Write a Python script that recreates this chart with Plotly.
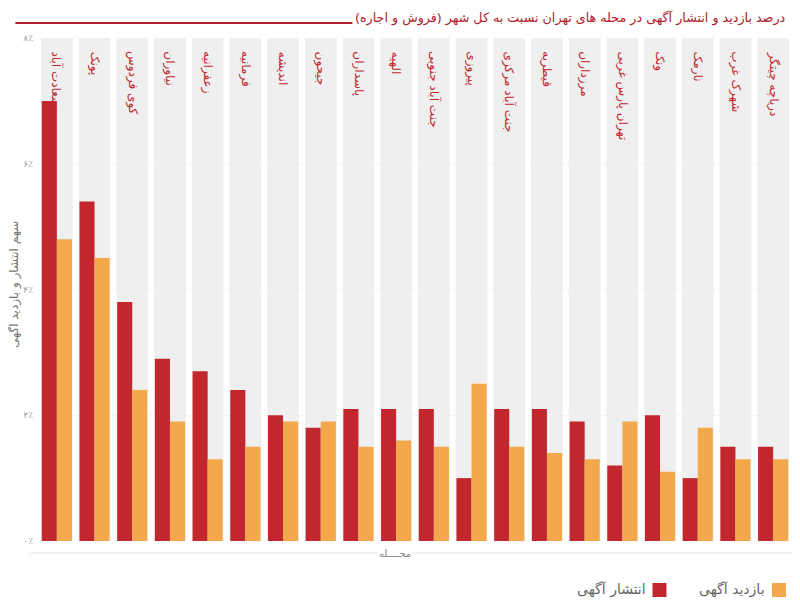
import plotly.graph_objects as go

# neighbourhoods, left to right
categories = ["سعادت آباد", "پونک", "کوی فردوس", "نیاوران", "زعفرانیه", "فرمانیه",
              "اندیشه", "جیحون", "پاسداران", "الهیه", "جنت آباد جنوبی", "پیروزی",
              "جنت آباد مرکزی", "قیطریه", "مرزداران", "تهران پارس غربی", "ونک",
              "نارمک", "شهرک غرب", "دریاچه چیتگر"]

# share of listings (percent)
listings = [7.0, 5.4, 3.8, 2.9, 2.7, 2.4, 2.0, 1.8, 2.1, 2.1, 2.1, 1.0,
            2.1, 2.1, 1.9, 1.2, 2.0, 1.0, 1.5, 1.5]
# share of views (percent)
views = [4.8, 4.5, 2.4, 1.9, 1.3, 1.5, 1.9, 1.9, 1.5, 1.6, 1.5, 2.5,
         1.5, 1.4, 1.3, 1.9, 1.1, 1.8, 1.3, 1.3]

tick_vals = [0, 2, 4, 6, 8]
tick_text = ["۰٪", "۲٪", "۴٪", "۶٪", "۸٪"]

RED = "#c1272d"
ORANGE = "#f3a84b"
FONT = "DejaVu Sans"

fig = go.Figure()

# grey background band behind each neighbourhood
fig.add_trace(go.Bar(x=categories, y=[8] * len(categories), width=0.84, offset=-0.42,
                     marker=dict(color="#efefef", line=dict(width=0)),
                     hoverinfo="skip", showlegend=False))
fig.add_trace(go.Bar(x=categories, y=listings, name="انتشار آگهی", width=0.4, offset=-0.4,
                     marker=dict(color=RED, line=dict(width=0))))
fig.add_trace(go.Bar(x=categories, y=views, name="بازدید آگهی", width=0.4, offset=0,
                     marker=dict(color=ORANGE, line=dict(width=0))))

# neighbourhood names written down from the top of each band
for c in categories:
    fig.add_annotation(x=c, y=7.82, xref="x", yref="y", text=c, textangle=90,
                       showarrow=False, xanchor="center", yanchor="top",
                       font=dict(family=FONT, size=12, color=RED))

# title and the red rule beside it
fig.add_annotation(x=0.993, y=1.0, xref="paper", yref="paper", yshift=20,
                   text="درصد بازدید و انتشار آگهی در محله های تهران نسبت به کل شهر (فروش و اجاره)",
                   showarrow=False, xanchor="right", yanchor="middle",
                   font=dict(family=FONT, size=12.7, color="#b02029"))
fig.add_shape(type="line", xref="paper", yref="paper", x0=-0.03, x1=0.417,
              y0=1.03, y1=1.03, line=dict(color="#b02029", width=2))

# axis titles
fig.add_shape(type="line", xref="paper", yref="paper", x0=-0.01, x1=1.0,
              y0=-0.024, y1=-0.024, line=dict(color="#e4e4e4", width=1))
fig.add_annotation(x=0.4735, y=-0.024, xref="paper", yref="paper", text="محــــله",
                   showarrow=False, bgcolor="white", xanchor="center", yanchor="middle",
                   font=dict(family=FONT, size=10, color="#888888"))
fig.add_annotation(x=-0.031, y=0.51, xref="paper", yref="paper",
                   text="سهم انتشار و بازدید آگهی", textangle=-90, showarrow=False,
                   xanchor="center", yanchor="middle",
                   font=dict(family=FONT, size=12, color="#777777"))

# legend drawn right-to-left: square on the right of its label
legend_items = [("بازدید آگهی", ORANGE, 0.9735), ("انتشار آگهی", RED, 0.815)]
for label, col, xpos in legend_items:
    fig.add_shape(type="rect", xref="paper", yref="paper", x0=xpos, x1=xpos + 0.0185,
                  y0=-0.1113, y1=-0.0835, fillcolor=col, line=dict(width=0))
    fig.add_annotation(x=xpos - 0.006, y=-0.0974, xref="paper", yref="paper", text=label,
                       showarrow=False, xanchor="right", yanchor="middle",
                       font=dict(family=FONT, size=14, color="#666666"))

# orange strip at the right edge
fig.add_shape(type="rect", xref="paper", yref="paper", xsizemode="pixel", xanchor=1.0,
              x0=3, x1=9, y0=-0.008, y1=0.453, fillcolor=ORANGE,
              layer="above", line=dict(width=0))

fig.update_layout(
    width=792, height=595,
    margin=dict(l=30, r=8, t=30, b=62),
    plot_bgcolor="white", paper_bgcolor="white",
    barmode="overlay",
    showlegend=False,
    font=dict(family=FONT),
    xaxis=dict(showticklabels=False, showgrid=False, zeroline=False, showline=False,
               range=[-0.5, len(categories) - 0.5]),
    yaxis=dict(range=[0, 8], tickvals=tick_vals, ticktext=tick_text, showgrid=True,
               gridcolor="#f4f4f4", zeroline=False, showline=False, ticklabelstandoff=4,
               tickfont=dict(family=FONT, size=9, color="#999999")),
)

fig.write_html("out.html")
